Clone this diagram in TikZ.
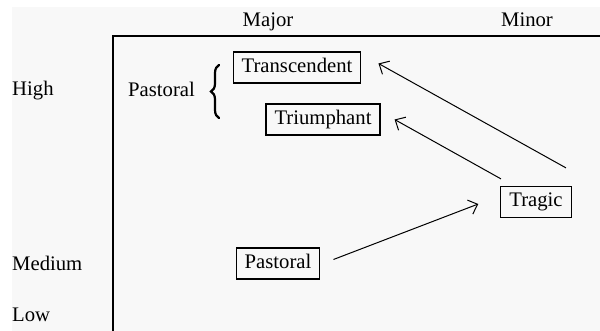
\documentclass[tikz,border=0pt]{standalone}
\usepackage{fontspec}
\setmainfont{Liberation Serif}
\usetikzlibrary{arrows.meta,decorations.pathreplacing}
\definecolor{bg}{RGB}{248,248,248}
\tikzset{
  lbl/.style={font=\fontsize{20.7}{24}\selectfont, inner sep=0pt},
  boxn/.style={draw, line width=1.2pt, font=\fontsize{20.7}{24}\selectfont,
    text height=15pt, text depth=5pt, inner xsep=8.5pt, inner ysep=5.5pt},
  arr/.style={line width=1pt, -{Straight Barb[length=8pt,width=15pt,line width=1pt]}},
  frame/.style={line width=1.4pt}
}
\begin{document}
\begin{tikzpicture}[x=1pt,y=-1pt]
\useasboundingbox (0,0) rectangle (600,331);
\fill[white] (0,0) rectangle (600,331);
\fill[bg] (12,7) rectangle (600,331);
% frame
\coordinate (fc) at (113,36);
\coordinate (fr) at (600,36);
\coordinate (fb) at (113,331);
\draw[frame] (fr) -- (fc) -- (fb);
% axis labels
\node[lbl, anchor=base] (major) at (268,27) {Major};
\node[lbl, anchor=base] (minor) at (527,27) {Minor};
\node[lbl, anchor=base west] (high) at (12,96) {High};
\node[lbl, anchor=base west] (medium) at (12,271) {Medium};
\node[lbl, anchor=base west] (low) at (12,321) {Low};
\node[lbl, anchor=base west] (pastlbl) at (128,97) {Pastoral};
% brace
\coordinate (brb) at (219,118);
\coordinate (brt) at (219,65);
\draw[line width=2.2pt, line cap=round, decorate, decoration={brace, amplitude=8pt}] (brb) -- (brt);
% boxes
\node[boxn] (transc) at (297,67.5) {Transcendent};
\node[boxn] (triump) at (323,119.5) {Triumphant};
\node[boxn] (tragic) at (536,202) {Tragic};
\node[boxn] (pastoral) at (278,263.5) {Pastoral};
% arrows
\draw[arr] ([shift={(13,-4)}]pastoral.east) -- ([shift={(-22,2)}]tragic.west);
\draw[arr] ([shift={(-35,-7)}]tragic.north) -- ([shift={(14,0)}]triump.east);
\draw[arr] ([shift={(30,-18)}]tragic.north) -- ([shift={(17,-4)}]transc.east);
\end{tikzpicture}
\end{document}
